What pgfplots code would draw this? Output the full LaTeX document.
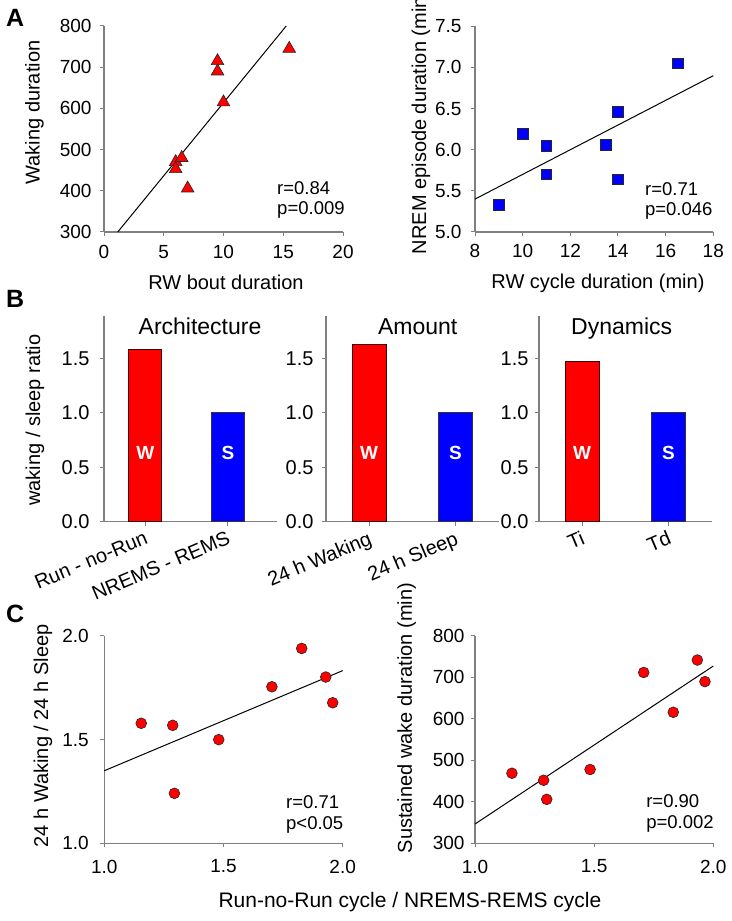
\documentclass[border=0pt]{standalone}
\usepackage{fontspec}
\setmainfont{Liberation Sans}
\usepackage{pgfplots}
\pgfplotsset{compat=1.18}
\definecolor{axgray}{RGB}{128,128,128}
\definecolor{myred}{RGB}{255,0,0}
\definecolor{myblue}{RGB}{0,0,255}
\newcommand\tfA{\fontsize{19bp}{22bp}\selectfont}
\newcommand\tfB{\fontsize{20bp}{23bp}\selectfont}
\newcommand\lf{\fontsize{20bp}{23bp}\selectfont}
\newcommand\af{\fontsize{18.5bp}{22bp}\selectfont}
\newcommand\ttf{\fontsize{23bp}{26bp}\selectfont}
\pgfplotsset{
  base/.style={
    scale only axis, anchor=south west,
    axis x line*=bottom, axis y line*=left,
    axis line style={axgray, line width=1.3bp},
    tick style={axgray, line width=1bp},
    tick align=outside, major tick length=4bp,
    ticklabel style={font=\tfA},
    /pgf/number format/assume math mode=true,
    every axis y label/.style={rotate=90, anchor=center, font=\lf},
    every axis x label/.style={anchor=base, font=\lf},
    clip=false,
  },
  fix1/.style={/pgf/number format/fixed, /pgf/number format/fixed zerofill, /pgf/number format/precision=1},
  reg/.style={black, line width=1bp, no marks},
  tri/.style={only marks, mark=triangle*, mark size=7.3bp, mark options={fill=myred, draw=black!85, line width=0.6bp}},
  sq/.style={only marks, mark=square*, mark size=5.3bp, mark options={fill=myblue, draw=black!85, line width=0.6bp}},
  circ/.style={only marks, mark=*, mark size=5.4bp, mark options={fill=myred, draw=black!85, line width=0.6bp}},
  barW/.style={ybar, bar shift=0pt, bar width=0.4, fill=myred, draw=black!75!red, line width=0.8bp},
  barS/.style={ybar, bar shift=0pt, bar width=0.4, fill=myblue, draw=black!80, line width=0.8bp},
  bpanel/.style={base, width=172.7bp, height=205.7bp, ymin=0, ymax=1.89,
    ytick={0,0.5,1.0,1.5}, yticklabel style={fix1, font=\tfB},
    xtick={0,1},
    xticklabel style={rotate=23, anchor=north east, font=\tfB},
  },
}
\begin{document}
\begin{tikzpicture}
\useasboundingbox (0,0) rectangle (732bp,921bp);
% Panel letters
\node[anchor=base west, font=\fontsize{25bp}{28bp}\selectfont\bfseries, inner sep=0] at (6bp,894bp) {A};
\node[anchor=base west, font=\fontsize{25bp}{28bp}\selectfont\bfseries, inner sep=0] at (6bp,613bp) {B};
\node[anchor=base west, font=\fontsize{25bp}{28bp}\selectfont\bfseries, inner sep=0] at (6bp,298bp) {C};

% A left
\begin{axis}[base, at={(104bp,689bp)}, width=239bp, height=206bp,
  xmin=0, xmax=20, ymin=300, ymax=800,
  xtick={0,5,10,15,20}, ytick={300,400,500,600,700,800},
  yticklabel style={xshift=-5bp}, xticklabel style={yshift=-6bp},
  ylabel={Waking duration}, ylabel style={at={(rel axis cs:-0.291,0.58)}},
  xlabel={RW bout duration}, xlabel style={at={(rel axis cs:0.51,-0.277)}}]
\addplot[reg] coordinates {(1.15,300) (15.25,800)};
\addplot[tri] coordinates {(15.5,745) (9.5,715) (9.5,690) (10,615) (6,470) (6,453) (6.5,480) (7,406)};
\node[anchor=base west, font=\af, inner sep=0] at (rel axis cs:0.724,0.18) {r=0.84};
\node[anchor=base west, font=\af, inner sep=0] at (rel axis cs:0.724,0.0825) {p=0.009};
\end{axis}

% A right
\begin{axis}[base, at={(475bp,689bp)}, width=238.3bp, height=205.7bp,
  xmin=8, xmax=18, ymin=5, ymax=7.5,
  xtick={8,10,12,14,16,18}, ytick={5,5.5,6,6.5,7,7.5}, yticklabel style={fix1, xshift=-6bp},
  xticklabel style={yshift=-5bp},
  ylabel={NREM episode duration (min)}, ylabel style={at={(rel axis cs:-0.227,0.533)}},
  xlabel={RW cycle duration (min)}, xlabel style={at={(rel axis cs:0.516,-0.274)}}]
\addplot[reg] coordinates {(8,5.40) (18,6.90)};
\addplot[sq] coordinates {(10,6.19) (11,6.05) (11,5.70) (9,5.33) (13.5,6.06) (14,6.46) (14,5.64) (16.5,7.05)};
\node[anchor=base west, font=\af, inner sep=0] at (rel axis cs:0.713,0.178) {r=0.71};
\node[anchor=base west, font=\af, inner sep=0] at (rel axis cs:0.713,0.081) {p=0.046};
\end{axis}

% B1
\begin{axis}[bpanel, at={(104bp,399.3bp)}, xmin=-0.5, xmax=1.59,
  yticklabel style={xshift=-7bp},
  xticklabels={Run - no-Run, NREMS - REMS},
  ylabel={waking / sleep ratio}, ylabel style={at={(rel axis cs:-0.40,0.494)}}]
\addplot[barW] coordinates {(0,1.585)};
\addplot[barS] coordinates {(1,1.0)};
\node[anchor=base, font=\fontsize{19bp}{22bp}\selectfont\bfseries, text=white] at (axis cs:0,0.573) {W};
\node[anchor=base, font=\fontsize{19bp}{22bp}\selectfont\bfseries, text=white] at (axis cs:1,0.573) {S};
\node[anchor=base, font=\ttf] at (rel axis cs:0.556,0.908) {Architecture};
\end{axis}

% B2
\begin{axis}[bpanel, at={(326bp,399.3bp)}, xmin=-0.5, xmax=1.5,
  yticklabel style={xshift=-5bp},
  xticklabels={24 h Waking, 24 h Sleep}]
\addplot[barW] coordinates {(0,1.63)};
\addplot[barS] coordinates {(1,1.0)};
\node[anchor=base, font=\fontsize{19bp}{22bp}\selectfont\bfseries, text=white] at (axis cs:0,0.573) {W};
\node[anchor=base, font=\fontsize{19bp}{22bp}\selectfont\bfseries, text=white] at (axis cs:1,0.573) {S};
\node[anchor=base, font=\ttf] at (rel axis cs:0.531,0.908) {Amount};
\end{axis}

% B3
\begin{axis}[bpanel, at={(539bp,399.3bp)}, xmin=-0.5, xmax=1.5,
  yticklabel style={xshift=-3bp},
  xticklabels={Ti, Td}]
\addplot[barW] coordinates {(0,1.476)};
\addplot[barS] coordinates {(1,1.0)};
\node[anchor=base, font=\fontsize{19bp}{22bp}\selectfont\bfseries, text=white] at (axis cs:0,0.573) {W};
\node[anchor=base, font=\fontsize{19bp}{22bp}\selectfont\bfseries, text=white] at (axis cs:1,0.573) {S};
\node[anchor=base, font=\ttf] at (rel axis cs:0.479,0.908) {Dynamics};
\end{axis}

% C left
\begin{axis}[base, at={(104.3bp,77.7bp)}, width=238.4bp, height=207.3bp,
  xmin=1, xmax=2, ymin=1, ymax=2,
  xtick={1,1.5,2}, ytick={1,1.5,2}, xticklabel style={fix1, yshift=-9bp}, yticklabel style={fix1, xshift=-8bp},
  ylabel={24 h Waking / 24 h Sleep}, ylabel style={at={(rel axis cs:-0.257,0.518)}},
  xlabel={Run-no-Run cycle / NREMS-REMS cycle}, xlabel style={at={(rel axis cs:1.282,-0.312)}, font=\fontsize{21bp}{24bp}\selectfont}]
\addplot[reg] coordinates {(1,1.35) (2,1.833)};
\addplot[circ] coordinates {(1.155,1.579) (1.287,1.569) (1.294,1.241) (1.48,1.5) (1.703,1.755) (1.828,1.94) (1.929,1.802) (1.958,1.678)};
\node[anchor=base west, font=\af, inner sep=0] at (rel axis cs:0.762,0.169) {r=0.71};
\node[anchor=base west, font=\af, inner sep=0] at (rel axis cs:0.762,0.0675) {p<0.05};
\end{axis}

% C right
\begin{axis}[base, at={(475bp,77.7bp)}, width=238.3bp, height=207.3bp,
  xmin=1, xmax=2, ymin=300, ymax=800,
  xtick={1,1.5,2}, ytick={300,400,500,600,700,800}, xticklabel style={fix1, yshift=-9bp},
  yticklabel style={xshift=-3bp},
  ylabel={Sustained wake duration (min)}, ylabel style={at={(rel axis cs:-0.287,0.604)}}]
\addplot[reg] coordinates {(1,346.5) (2,727.6)};
\addplot[circ] coordinates {(1.155,469) (1.288,452) (1.301,406) (1.483,478) (1.708,712) (1.832,616) (1.933,742) (1.965,690)};
\node[anchor=base west, font=\af, inner sep=0] at (rel axis cs:0.718,0.172) {r=0.90};
\node[anchor=base west, font=\af, inner sep=0] at (rel axis cs:0.718,0.069) {p=0.002};
\end{axis}
\end{tikzpicture}
\end{document}
